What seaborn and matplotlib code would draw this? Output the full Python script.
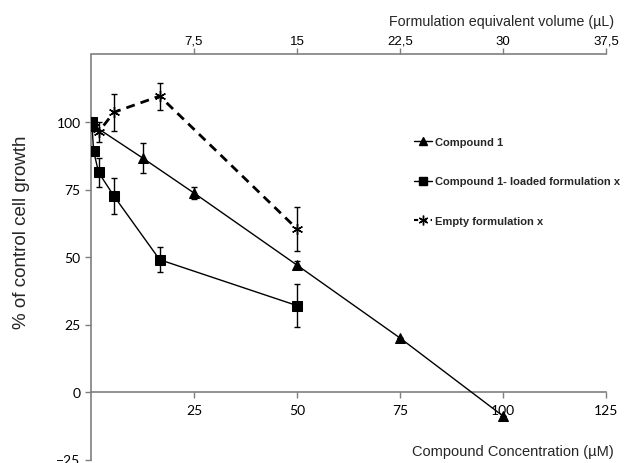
import numpy as np
import pandas as pd
import matplotlib
matplotlib.use("Agg")
import matplotlib.pyplot as plt
import seaborn as sns
from matplotlib.lines import Line2D

# Daten
conc_cpd1 = [0.8, 12.5, 25, 50, 75, 100]
growth_cpd1 = [98.5, 86.7, 73.7, 47.0, 20.0, -8.9]
err_cpd1 = [0, 5.5, 2.2, 1.5, 0, 0]

conc_loaded = [0.21, 0.62, 1.85, 5.56, 16.67, 50]
growth_loaded = [100.0, 89.3, 81.3, 72.6, 49.0, 32.0]
err_loaded = [0, 0, 5.4, 6.7, 4.7, 7.9]

conc_empty = [0.62, 1.85, 5.56, 16.67, 50]
growth_empty = [98.0, 96.3, 103.6, 109.6, 60.4]
err_empty = [0, 3.7, 6.8, 5.0, 8.3]

x_ticks = [25, 50, 75, 100, 125]
y_ticks = [-25, 0, 25, 50, 75, 100]
top_ticks = [7.5, 15, 22.5, 30, 37.5]
top_labels = ['7,5', '15', '22,5', '30', '37,5']

LABELS = ['Compound 1', 'Compound 1- loaded formulation x', 'Empty formulation x']
SPINE = '#7f7f7f'
STAR = (6, 2, 0)

sns.set_theme(style='white')
plt.rcParams['font.family'] = ['Liberation Sans', 'DejaVu Sans']

fig = plt.figure(figsize=(6.24, 4.64), dpi=100)
ax = fig.add_axes([91 / 624, 3.5 / 464, 515 / 624, 405 / 464])

df1 = pd.DataFrame({'x': conc_cpd1, 'y': growth_cpd1})
df2 = pd.DataFrame({'x': conc_loaded, 'y': growth_loaded})
df3 = pd.DataFrame({'x': conc_empty, 'y': growth_empty})

sns.lineplot(data=df3, x='x', y='y', ax=ax, color='black', lw=2.0, linestyle=(0, (3.2, 2.2)),
             marker=STAR, markersize=8, markeredgecolor='black', markeredgewidth=1.0, zorder=3)
sns.lineplot(data=df1, x='x', y='y', ax=ax, color='black', lw=1.0,
             marker='^', markersize=7, markeredgecolor='black', markerfacecolor='black', zorder=4)
sns.lineplot(data=df2, x='x', y='y', ax=ax, color='black', lw=1.0,
             marker='s', markersize=7.5, markeredgecolor='black', markerfacecolor='black', zorder=4)

for xs, ys, es in [(conc_cpd1, growth_cpd1, err_cpd1),
                   (conc_loaded, growth_loaded, err_loaded),
                   (conc_empty, growth_empty, err_empty)]:
    ax.errorbar(xs, ys, yerr=es, fmt='none', ecolor='black', elinewidth=1.0,
                capsize=2.5, capthick=1.0, zorder=2)

ax.set_xlim(0, 125)
ax.set_ylim(-25, 125)
ax.set_xlabel('')
ax.set_ylabel('')
ax.set_facecolor('white')
ax.grid(False)

ax.spines['right'].set_visible(False)
ax.spines['top'].set_visible(False)
ax.spines['bottom'].set_position(('data', 0))
for s in ['left', 'bottom']:
    ax.spines[s].set_color(SPINE)
    ax.spines[s].set_linewidth(1.2)

ax.set_xticks(x_ticks)
ax.set_yticks(y_ticks)
ax.tick_params(axis='both', direction='out', length=4, width=1, color=SPINE,
               labelsize=10, labelcolor='black', bottom=True, left=True)
ax.tick_params(axis='x', pad=5)
for lab in ax.get_xticklabels() + ax.get_yticklabels():
    lab.set_fontfamily(['Lato', 'DejaVu Sans'])

# obere Achse: Formulierungsvolumen
sec = ax.secondary_xaxis('top', functions=(lambda v: v * 0.3, lambda v: v / 0.3))
sec.set_xticks(top_ticks)
sec.set_xticklabels(top_labels)
sec.spines['top'].set_color(SPINE)
sec.spines['top'].set_linewidth(1.2)
sec.tick_params(axis='x', direction='out', length=4, width=1, color=SPINE,
                labelsize=9.5, labelcolor='black', pad=1.5)

fig.text(614 / 624, 1 - 22 / 464, 'Formulation equivalent volume (\u00b5L)',
         ha='right', va='center', fontsize=10.3)
fig.text(614 / 624, 1 - 452 / 464, 'Compound Concentration (\u00b5M)',
         ha='right', va='center', fontsize=10.5)
fig.text(22 / 624, 1 - 232 / 464, '% of control cell growth',
         rotation=90, ha='center', va='center', fontsize=13.5)

handles = [
    Line2D([], [], color='black', lw=1.0, marker='^', markersize=6),
    Line2D([], [], color='black', lw=1.0, marker='s', markersize=6),
    Line2D([], [], color='black', lw=1.5, linestyle=(0, (2, 2)), marker=STAR, markersize=7,
           markeredgewidth=1.0),
]
leg = fig.legend(handles, LABELS, loc='upper left', bbox_to_anchor=(404 / 624, 1 - 128 / 464),
                 frameon=False, handlelength=1.6, handletextpad=0.3, labelspacing=2.65,
                 prop={'weight': 'bold', 'size': 8})

fig.savefig('out.png', dpi=100)
